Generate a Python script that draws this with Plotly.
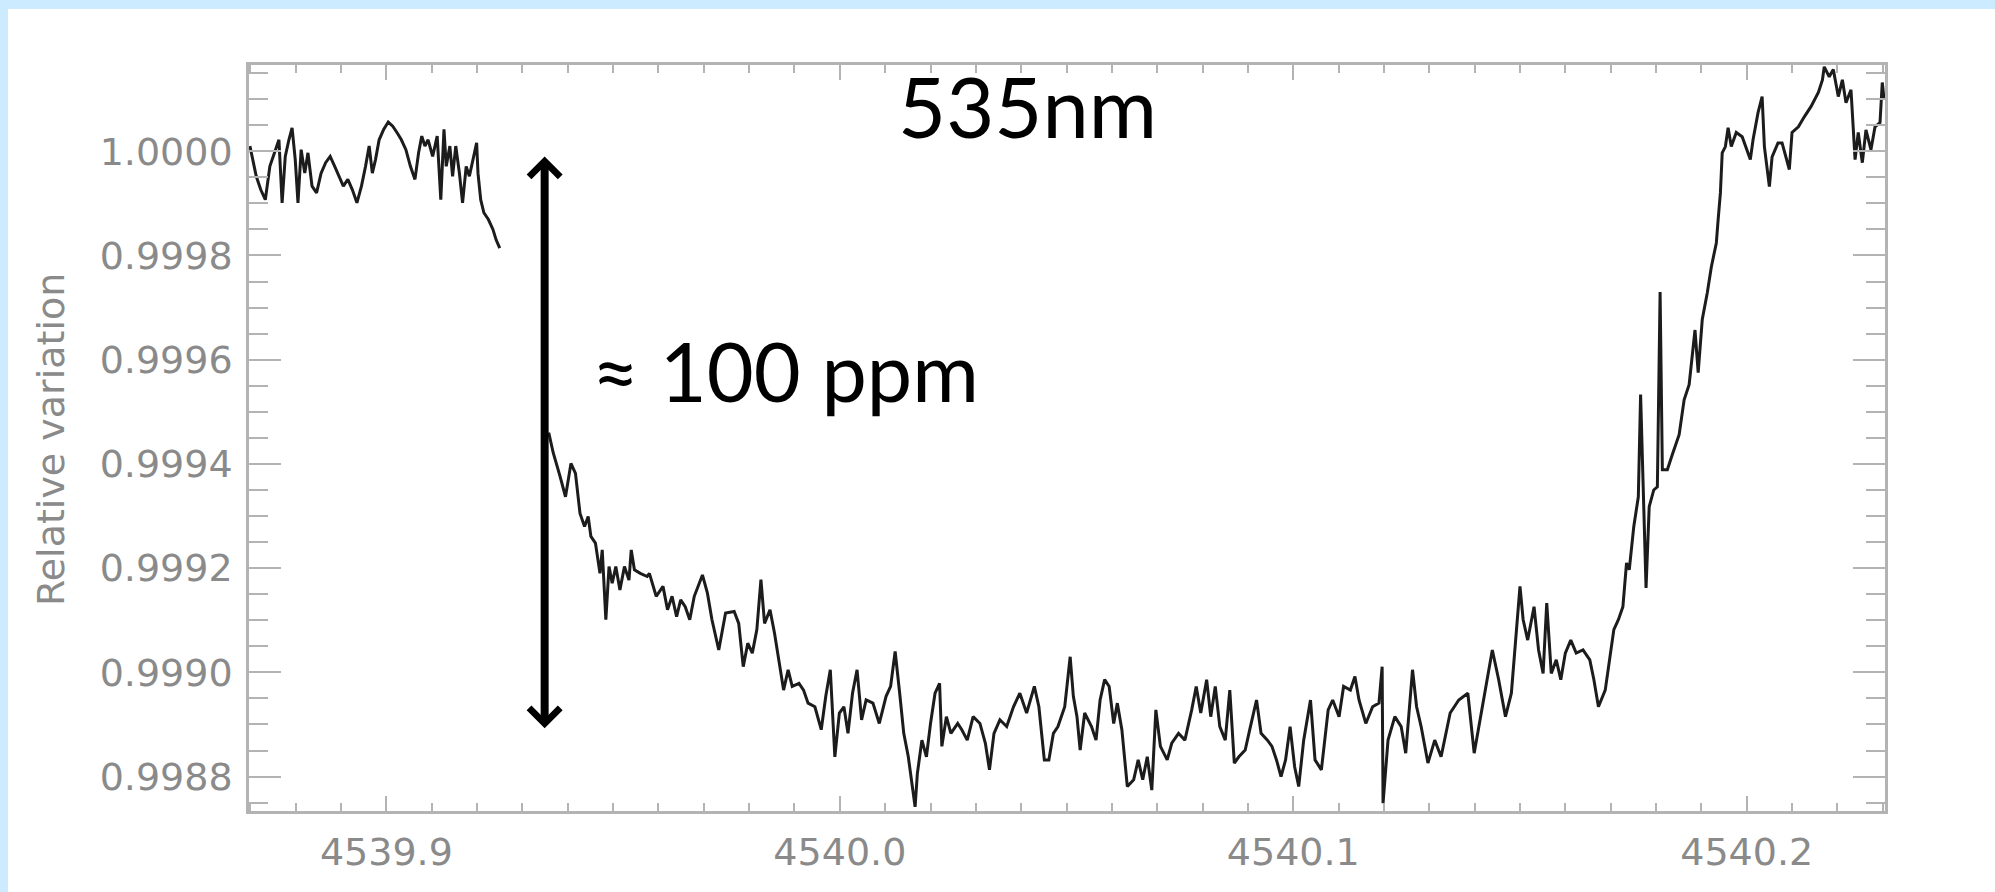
import plotly.graph_objects as go

# ---------------- data ----------------
# first stretch of the spectrum (before the gap)
wavelength_a = [
    4539.8699, 4539.8713, 4539.8723, 4539.8733, 4539.8743, 4539.8753, 4539.8763, 4539.8770,
    4539.8777, 4539.8785, 4539.8792, 4539.8799, 4539.8805, 4539.8812, 4539.8820, 4539.8827,
    4539.8836, 4539.8846, 4539.8856, 4539.8866, 4539.8876, 4539.8886, 4539.8896, 4539.8905,
    4539.8915, 4539.8925, 4539.8935, 4539.8945, 4539.8954, 4539.8962, 4539.8969, 4539.8976,
    4539.8984, 4539.8994, 4539.9004, 4539.9014, 4539.9024, 4539.9033, 4539.9043, 4539.9053,
    4539.9063, 4539.9071, 4539.9078, 4539.9085, 4539.9092, 4539.9102, 4539.9112, 4539.9120,
    4539.9127, 4539.9132, 4539.9140, 4539.9146, 4539.9153, 4539.9161, 4539.9168, 4539.9176,
    4539.9183, 4539.9191, 4539.9199, 4539.9202, 4539.9208, 4539.9215, 4539.9225, 4539.9235,
    4539.9242, 4539.9250,
]
relvar_a = [
    1.000010, 0.999952, 0.999926, 0.999907, 0.999971, 0.999997, 1.000022, 0.999901,
    0.999990, 1.000022, 1.000045, 0.999984, 0.999901, 1.000003, 0.999958, 0.999997,
    0.999933, 0.999920, 0.999958, 0.999978, 0.999990, 0.999971, 0.999952, 0.999933,
    0.999946, 0.999926, 0.999901, 0.999933, 0.999971, 1.000010, 0.999958, 0.999984,
    1.000022, 1.000042, 1.000056, 1.000048, 1.000035, 1.000022, 1.000003, 0.999971,
    0.999946, 0.999997, 1.000029, 1.000010, 1.000022, 0.999990, 1.000029, 0.999907,
    1.000042, 0.999971, 1.000010, 0.999952, 1.000010, 0.999958, 0.999901, 0.999971,
    0.999952, 0.999984, 1.000016, 0.999958, 0.999907, 0.999882, 0.999869, 0.999850,
    0.999830, 0.999814,
]

# second stretch of the spectrum (after the gap)
wavelength_b = [
    4539.9358, 4539.9368, 4539.9383, 4539.9395, 4539.9407, 4539.9417, 4539.9427, 4539.9437,
    4539.9445, 4539.9451, 4539.9461, 4539.9471, 4539.9476, 4539.9484, 4539.9491, 4539.9498,
    4539.9506, 4539.9515, 4539.9525, 4539.9535, 4539.9540, 4539.9547, 4539.9560, 4539.9575,
    4539.9580, 4539.9595, 4539.9610, 4539.9620, 4539.9630, 4539.9640, 4539.9649, 4539.9659,
    4539.9669, 4539.9679, 4539.9697, 4539.9708, 4539.9718, 4539.9733, 4539.9748, 4539.9767,
    4539.9777, 4539.9787, 4539.9797, 4539.9807, 4539.9817, 4539.9826, 4539.9834, 4539.9846,
    4539.9856, 4539.9866, 4539.9876, 4539.9886, 4539.9895, 4539.9910, 4539.9920, 4539.9930,
    4539.9945, 4539.9959, 4539.9969, 4539.9979, 4539.9989, 4539.9999, 4540.0009, 4540.0018,
    4540.0028, 4540.0038, 4540.0048, 4540.0058, 4540.0073, 4540.0087, 4540.0102, 4540.0112,
    4540.0122, 4540.0132, 4540.0141, 4540.0151, 4540.0166, 4540.0171, 4540.0181, 4540.0191,
    4540.0200, 4540.0210, 4540.0220, 4540.0225, 4540.0235, 4540.0245, 4540.0260, 4540.0269,
    4540.0281, 4540.0294, 4540.0309, 4540.0321, 4540.0330, 4540.0340, 4540.0353, 4540.0368,
    4540.0383, 4540.0397, 4540.0412, 4540.0429, 4540.0439, 4540.0451, 4540.0461, 4540.0471,
    4540.0481, 4540.0496, 4540.0508, 4540.0515, 4540.0523, 4540.0530, 4540.0540, 4540.0555,
    4540.0565, 4540.0574, 4540.0584, 4540.0594, 4540.0604, 4540.0612, 4540.0622, 4540.0634,
    4540.0648, 4540.0658, 4540.0668, 4540.0678, 4540.0688, 4540.0697, 4540.0707, 4540.0722,
    4540.0732, 4540.0747, 4540.0761, 4540.0776, 4540.0786, 4540.0796, 4540.0809, 4540.0818,
    4540.0828, 4540.0838, 4540.0850, 4540.0860, 4540.0870, 4540.0880, 4540.0894, 4540.0904,
    4540.0919, 4540.0929, 4540.0943, 4540.0953, 4540.0963, 4540.0973, 4540.0983, 4540.0993,
    4540.1003, 4540.1012, 4540.1023, 4540.1038, 4540.1048, 4540.1062, 4540.1077, 4540.1087,
    4540.1101, 4540.1111, 4540.1126, 4540.1136, 4540.1145, 4540.1160, 4540.1175, 4540.1189,
    4540.1196, 4540.1198, 4540.1209, 4540.1224, 4540.1238, 4540.1248, 4540.1263, 4540.1272,
    4540.1282, 4540.1297, 4540.1312, 4540.1326, 4540.1346, 4540.1365, 4540.1385, 4540.1399,
    4540.1414, 4540.1424, 4540.1439, 4540.1453, 4540.1468, 4540.1481, 4540.1490, 4540.1500,
    4540.1507, 4540.1517, 4540.1531, 4540.1541, 4540.1551, 4540.1559, 4540.1569, 4540.1580,
    4540.1590, 4540.1600, 4540.1612, 4540.1624, 4540.1639, 4540.1654, 4540.1663, 4540.1673,
    4540.1688, 4540.1698, 4540.1707, 4540.1717, 4540.1727, 4540.1735, 4540.1741, 4540.1751,
    4540.1761, 4540.1766, 4540.1778, 4540.1785, 4540.1795, 4540.1803, 4540.1809, 4540.1814,
    4540.1825, 4540.1836, 4540.1851, 4540.1862, 4540.1873, 4540.1886, 4540.1893, 4540.1902,
    4540.1913, 4540.1922, 4540.1933, 4540.1937, 4540.1942, 4540.1946, 4540.1953, 4540.1959,
    4540.1966, 4540.1977, 4540.1990, 4540.2008, 4540.2014, 4540.2025, 4540.2034, 4540.2039,
    4540.2050, 4540.2056, 4540.2069, 4540.2078, 4540.2094, 4540.2100, 4540.2114, 4540.2127,
    4540.2142, 4540.2158, 4540.2167, 4540.2171, 4540.2182, 4540.2191, 4540.2202, 4540.2211,
    4540.2219, 4540.2230, 4540.2239, 4540.2246, 4540.2255, 4540.2263, 4540.2274, 4540.2283,
    4540.2294, 4540.2299, 4540.2303,
]
relvar_b = [
    0.999460, 0.999421, 0.999376, 0.999337, 0.999401, 0.999382, 0.999305, 0.999280,
    0.999299, 0.999261, 0.999248, 0.999190, 0.999235, 0.999101, 0.999203, 0.999171,
    0.999203, 0.999158, 0.999203, 0.999177, 0.999235, 0.999197, 0.999190, 0.999184,
    0.999190, 0.999146, 0.999165, 0.999120, 0.999146, 0.999107, 0.999139, 0.999126,
    0.999101, 0.999146, 0.999187, 0.999152, 0.999101, 0.999043, 0.999114, 0.999117,
    0.999094, 0.999011, 0.999056, 0.999037, 0.999082, 0.999178, 0.999094, 0.999120,
    0.999075, 0.999018, 0.998966, 0.999005, 0.998973, 0.998979, 0.998966, 0.998941,
    0.998934, 0.998890, 0.998954, 0.999005, 0.998838, 0.998922, 0.998934, 0.998883,
    0.998960, 0.999005, 0.998909, 0.998947, 0.998941, 0.998902, 0.998954, 0.998973,
    0.999040, 0.998960, 0.998883, 0.998838, 0.998742, 0.998806, 0.998870, 0.998838,
    0.998902, 0.998960, 0.998979, 0.998858, 0.998915, 0.998883, 0.998902, 0.998890,
    0.998870, 0.998915, 0.998902, 0.998864, 0.998813, 0.998883, 0.998909, 0.998896,
    0.998934, 0.998960, 0.998922, 0.998973, 0.998934, 0.998832, 0.998832, 0.998883,
    0.998896, 0.998934, 0.999030, 0.998954, 0.998915, 0.998851, 0.998922, 0.998896,
    0.998870, 0.998947, 0.998986, 0.998973, 0.998902, 0.998941, 0.998890, 0.998781,
    0.998794, 0.998832, 0.998794, 0.998838, 0.998774, 0.998928, 0.998858, 0.998832,
    0.998864, 0.998883, 0.998870, 0.998928, 0.998973, 0.998922, 0.998986, 0.998915,
    0.998973, 0.998896, 0.998870, 0.998966, 0.998826, 0.998838, 0.998851, 0.998890,
    0.998947, 0.998883, 0.998870, 0.998858, 0.998832, 0.998800, 0.998832, 0.998896,
    0.998819, 0.998781, 0.998870, 0.998947, 0.998832, 0.998813, 0.998928, 0.998947,
    0.998915, 0.998973, 0.998966, 0.998992, 0.998947, 0.998902, 0.998934, 0.998941,
    0.999011, 0.998749, 0.998870, 0.998915, 0.998896, 0.998845, 0.999005, 0.998934,
    0.998896, 0.998826, 0.998870, 0.998838, 0.998922, 0.998947, 0.998960, 0.998845,
    0.998922, 0.998966, 0.999043, 0.998986, 0.998915, 0.998960, 0.999050, 0.999165,
    0.999101, 0.999062, 0.999126, 0.999043, 0.998998, 0.999133, 0.998998, 0.999024,
    0.998986, 0.999037, 0.999062, 0.999037, 0.999043, 0.999024, 0.998986, 0.998934,
    0.998966, 0.999024, 0.999082, 0.999101, 0.999126, 0.999210, 0.999197, 0.999280,
    0.999337, 0.999533, 0.999162, 0.999318, 0.999350, 0.999356, 0.999730, 0.999389,
    0.999389, 0.999418, 0.999456, 0.999523, 0.999552, 0.999657, 0.999575, 0.999677,
    0.999728, 0.999778, 0.999824, 0.999869, 0.999920, 0.999997, 1.000009, 1.000045,
    1.000009, 1.000036, 1.000028, 0.999984, 1.000022, 1.000074, 1.000105, 1.000009,
    0.999932, 0.999989, 1.000016, 1.000016, 0.999965, 1.000036, 1.000047, 1.000066,
    1.000086, 1.000113, 1.000137, 1.000162, 1.000143, 1.000157, 1.000105, 1.000137,
    1.000093, 1.000118, 0.999984, 1.000036, 0.999978, 1.000041, 1.000003, 1.000047,
    1.000055, 1.000132, 1.000099,
]

x_tick_values = [4539.9, 4540.0, 4540.1, 4540.2]
x_tick_labels = ["4539.9", "4540.0", "4540.1", "4540.2"]
y_tick_values = [0.9988, 0.9990, 0.9992, 0.9994, 0.9996, 0.9998, 1.0000]
y_tick_labels = ["0.9988", "0.9990", "0.9992", "0.9994", "0.9996", "0.9998", "1.0000"]
x_range = [4539.8697, 4540.2305]
y_range = [0.998734, 1.0001655]

# annotation values
title_text = "535nm"
span_text = "≈ 100 ppm"
arrow_wavelength = 4539.9349
arrow_top = 0.99999
arrow_bottom = 0.99889

# ---------------- figure ----------------
W, H = 1995, 892
ML, MR, MT, MB = 249, 110, 65, 81
PW, PH = W - ML - MR, H - MT - MB

def px_x(p):
    return (p - ML) / PW

def px_y(p):
    return (H - MB - p) / PH

fig = go.Figure()
for wl, rv in ((wavelength_a, relvar_a), (wavelength_b, relvar_b)):
    fig.add_trace(go.Scatter(
        x=wl, y=rv, mode="lines",
        line=dict(color="#1c1c1c", width=3),
        showlegend=False, hoverinfo="skip",
    ))

frame_col = "#b3b3b3"
label_font = dict(family="DejaVu Sans", size=38, color="#8a8a8a")

fig.update_xaxes(
    range=x_range, tickmode="array", tickvals=x_tick_values, ticktext=x_tick_labels,
    showgrid=False, zeroline=False, showline=True, linecolor=frame_col, linewidth=2.5,
    mirror="ticks", ticks="inside", ticklen=15, tickwidth=2, tickcolor=frame_col,
    tickfont=label_font, ticklabelstandoff=6,
    minor=dict(tickmode="linear", tick0=4539.9, dtick=0.01, ticks="inside",
               ticklen=8, tickwidth=2, tickcolor=frame_col, showgrid=False),
)
fig.update_yaxes(
    range=y_range, tickmode="array", tickvals=y_tick_values, ticktext=y_tick_labels,
    showgrid=False, zeroline=False, showline=True, linecolor=frame_col, linewidth=2.5,
    mirror="ticks", ticks="inside", ticklen=32, tickwidth=2, tickcolor=frame_col,
    tickfont=label_font, ticklabelstandoff=6,
    minor=dict(tickmode="linear", tick0=0.9988, dtick=0.00005, ticks="inside",
               ticklen=19, tickwidth=2, tickcolor=frame_col, showgrid=False),
)

shapes = [
    # white slide panel on light-blue background
    dict(type="rect", xref="paper", yref="paper", layer="below",
         x0=px_x(8), x1=px_x(W + 5), y0=px_y(H + 5), y1=px_y(9),
         fillcolor="white", line=dict(width=0)),
]

annotations = [
    dict(text=title_text, xref="paper", yref="paper", x=px_x(1027), y=px_y(106),
         xanchor="center", yanchor="middle", showarrow=False,
         font=dict(family="Lato", size=83, color="black")),
    dict(text=span_text, xref="paper", yref="paper", x=px_x(590), y=px_y(370),
         xanchor="left", yanchor="middle", showarrow=False,
         font=dict(family="Lato", size=81, color="black")),
    dict(text="Relative variation", xref="paper", yref="paper", x=px_x(51), y=px_y(440),
         xanchor="center", yanchor="middle", textangle=-90, showarrow=False,
         font=dict(family="DejaVu Sans", size=38, color="#8a8a8a")),
    dict(text="", x=arrow_wavelength, y=arrow_top, ax=arrow_wavelength, ay=arrow_bottom,
         xref="x", yref="y", axref="x", ayref="y", showarrow=True,
         arrowside="end+start", arrowhead=4, startarrowhead=4,
         arrowwidth=8, arrowsize=0.75, startarrowsize=0.75, arrowcolor="black"),
]

fig.update_layout(
    width=W, height=H,
    margin=dict(l=ML, r=MR, t=MT, b=MB),
    paper_bgcolor="#cdebff", plot_bgcolor="white",
    shapes=shapes, annotations=annotations,
    showlegend=False,
)

fig.write_html("out.html")
